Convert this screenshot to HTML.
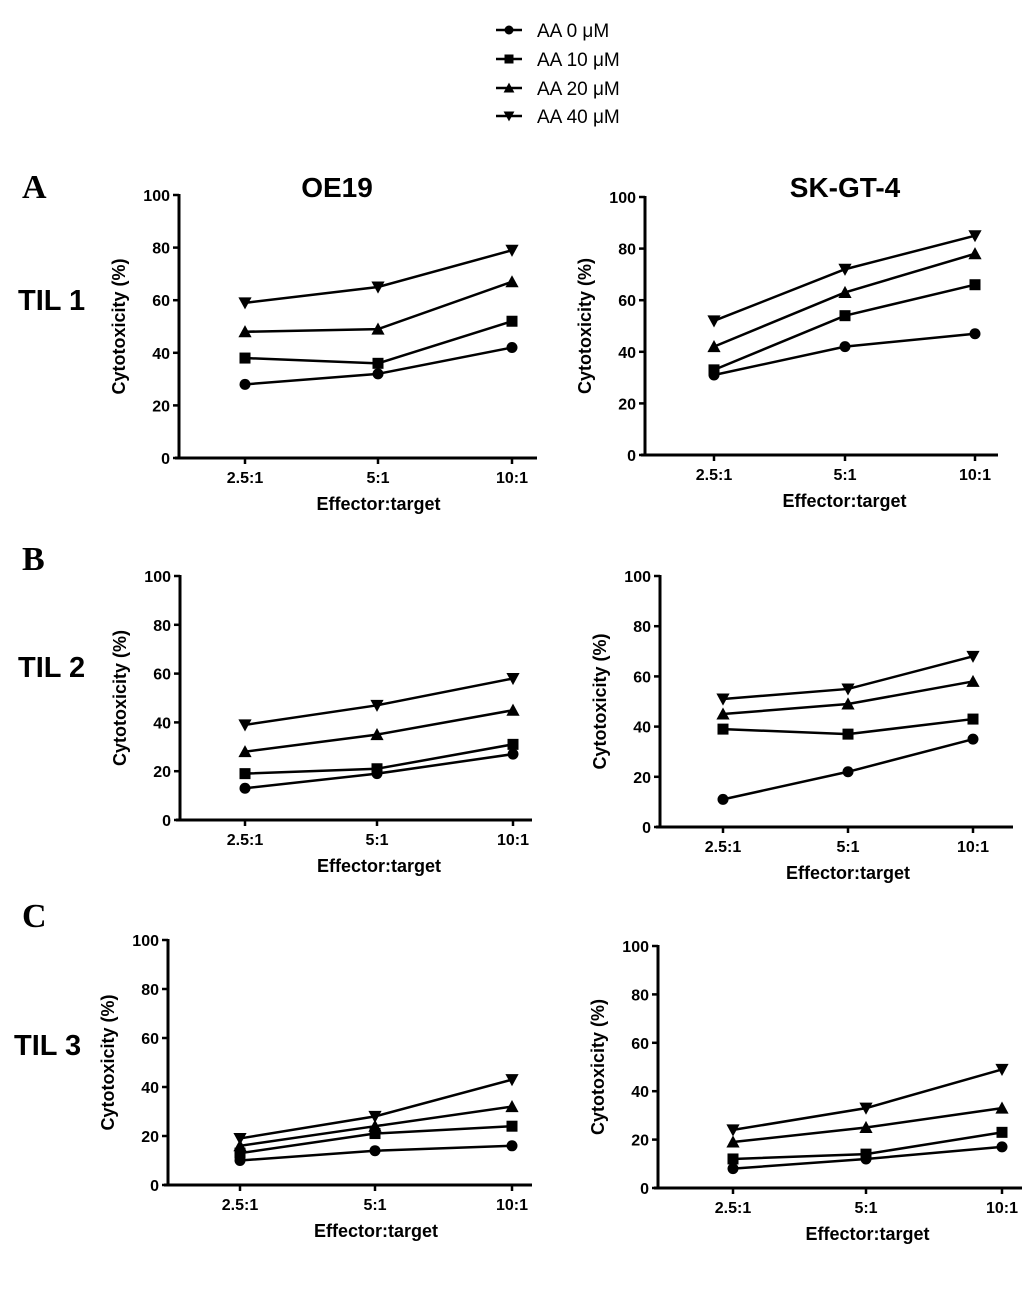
<!DOCTYPE html>
<html><head><meta charset="utf-8"><style>
body{margin:0;background:#fff;}
svg{display:block;font-family:"Liberation Sans",Arial,sans-serif;}
</style></head><body>
<svg id="fig" width="1033" height="1295" viewBox="0 0 1033 1295">
<g id="legend"></g>
<text x="22" y="198" font-family="Liberation Serif,serif" font-weight="bold" font-size="34">A</text>
<text x="22" y="570" font-family="Liberation Serif,serif" font-weight="bold" font-size="34">B</text>
<text x="22" y="927" font-family="Liberation Serif,serif" font-weight="bold" font-size="34">C</text>
<text x="18" y="310" font-weight="bold" font-size="29">TIL 1</text>
<text x="18" y="677" font-weight="bold" font-size="29">TIL 2</text>
<text x="14" y="1055" font-weight="bold" font-size="29">TIL 3</text>
<text x="337" y="197" text-anchor="middle" font-weight="bold" font-size="28">OE19</text>
<text x="845" y="197" text-anchor="middle" font-weight="bold" font-size="28">SK-GT-4</text>
</svg>
<script>
const categories=["2.5:1","5:1","10:1"];
const seriesNames=["AA 0  μM","AA 10  μM","AA 20  μM","AA 40  μM"];
const yTicks=[0,20,40,60,80,100];
const aLeft0=[28,32,42],aLeft10=[38,36,52],aLeft20=[48,49,67],aLeft40=[59,65,79];
const aRight0=[31,42,47],aRight10=[33,54,66],aRight20=[42,63,78],aRight40=[52,72,85];
const bLeft0=[13,19,27],bLeft10=[19,21,31],bLeft20=[28,35,45],bLeft40=[39,47,58];
const bRight0=[11,22,35],bRight10=[39,37,43],bRight20=[45,49,58],bRight40=[51,55,68];
const cLeft0=[10,14,16],cLeft10=[13,21,24],cLeft20=[16,24,32],cLeft40=[19,28,43];
const cRight0=[8,12,17],cRight10=[12,14,23],cRight20=[19,25,33],cRight40=[24,33,49];

const NS="http://www.w3.org/2000/svg";
const svg=document.getElementById('fig');
function mk(tag,attrs,parent){const e=document.createElementNS(NS,tag);for(const k in attrs)e.setAttribute(k,attrs[k]);(parent||svg).appendChild(e);return e;}
function marker(g,type,x,y,s){
  if(type===0)return mk('circle',{cx:x,cy:y,r:s},g);
  if(type===1)return mk('rect',{x:x-s,y:y-s,width:2*s,height:2*s},g);
  if(type===2)return mk('polygon',{points:`${x},${y-s*1.2} ${x-s*1.2},${y+s} ${x+s*1.2},${y+s}`},g);
  return mk('polygon',{points:`${x},${y+s*1.2} ${x-s*1.2},${y-s} ${x+s*1.2},${y-s}`},g);
}
// legend
const lg=document.getElementById('legend');
[30,59,88,116].forEach((ly,i)=>{
  const it=mk('g',{},lg);
  
  
  mk('line',{x1:496,x2:522,y1:ly,y2:ly,stroke:'#000','stroke-width':2.5},it);
  marker(it,i,509,ly,4.5);
  const t=mk('text',{x:537,y:ly+7,'font-size':19},it);t.textContent=seriesNames[i];
});
const panels=[
 {n:'a-left',ax:179,y100:195,y0:458,xt:[245,378,512],xe:537,s:[aLeft0,aLeft10,aLeft20,aLeft40]},
 {n:'a-right',ax:645,y100:197,y0:455,xt:[714,845,975],xe:998,s:[aRight0,aRight10,aRight20,aRight40]},
 {n:'b-left',ax:180,y100:576,y0:820,xt:[245,377,513],xe:532,s:[bLeft0,bLeft10,bLeft20,bLeft40]},
 {n:'b-right',ax:660,y100:576,y0:827,xt:[723,848,973],xe:1013,s:[bRight0,bRight10,bRight20,bRight40]},
 {n:'c-left',ax:168,y100:940,y0:1185,xt:[240,375,512],xe:532,s:[cLeft0,cLeft10,cLeft20,cLeft40]},
 {n:'c-right',ax:658,y100:946,y0:1188,xt:[733,866,1002],xe:1022,s:[cRight0,cRight10,cRight20,cRight40]}
];
panels.forEach(p=>{
  const g=mk('g',{});
  
  
  const Y=v=>p.y0+(p.y100-p.y0)*v/100;
  const X=i=>p.xt[i];
  mk('line',{x1:p.ax,x2:p.ax,y1:p.y100-1,y2:p.y0+1,stroke:'#000','stroke-width':3},g);
  mk('line',{x1:p.ax-4,x2:p.xe,y1:p.y0,y2:p.y0,stroke:'#000','stroke-width':3},g);
  yTicks.forEach(v=>{
    mk('line',{x1:p.ax-6,x2:p.ax,y1:Y(v),y2:Y(v),stroke:'#000','stroke-width':2.5},g);
    const t=mk('text',{x:p.ax-9,y:Y(v)+6,'text-anchor':'end','font-size':16,'font-weight':'bold'},g);t.textContent=v;
  });
  categories.forEach((c,i)=>{
    mk('line',{x1:X(i),x2:X(i),y1:p.y0,y2:p.y0+6,stroke:'#000','stroke-width':2.5},g);
    const t=mk('text',{x:X(i),y:p.y0+25,'text-anchor':'middle','font-size':16,'font-weight':'bold'},g);t.textContent=c;
  });
  const xt=mk('text',{x:(p.xt[0]+p.xt[2])/2,y:p.y0+52,'text-anchor':'middle','font-size':18,'font-weight':'bold'},g);xt.textContent='Effector:target';
  
  
  const cy=(p.y0+p.y100)/2;
  const yt=mk('text',{x:p.ax-54,y:cy,'text-anchor':'middle','font-size':18,'font-weight':'bold',transform:`rotate(-90 ${p.ax-54} ${cy})`},g);yt.textContent='Cytotoxicity (%)';
  
  
  p.s.forEach((arr,si)=>{
    const sg=mk('g',{fill:'#000'},g);
    
    
    mk('polyline',{points:arr.map((v,i)=>X(i)+','+Y(v)).join(' '),fill:'none',stroke:'#000','stroke-width':2.5},sg);
    arr.forEach((v,i)=>{const m=marker(sg,si,X(i),Y(v),5.5);
      
      });
  });
});
</script>
</body></html>
